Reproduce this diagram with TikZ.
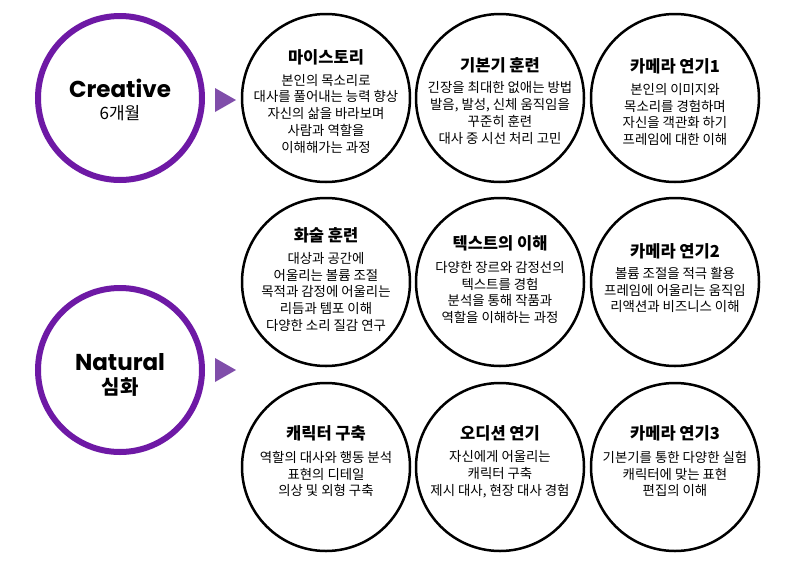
\documentclass[tikz,border=0pt]{standalone}
\usepackage{fontspec}
\newfontfamily\kr{Noto Sans CJK KR}
\newfontfamily\pop{Poppins}
\definecolor{ring}{RGB}{110,25,165}
\definecolor{tricol}{RGB}{128,78,170}
\begin{document}
\begin{tikzpicture}[x=1pt,y=-1pt,
  stage/.style={circle, draw=ring, line width=6pt, minimum size=164pt, inner sep=0pt},
  topic/.style={circle, draw=black, line width=2.5pt, minimum size=168pt, inner sep=0pt},
  ttl/.style={font=\kr\bfseries\fontsize{16.5}{19}\selectfont, inner sep=0pt},
  bdy/.style={font=\kr\fontsize{13.4}{16.8}\selectfont, align=center, inner sep=0pt},
  stagename/.style={font=\pop\bfseries\fontsize{23}{26}\selectfont, inner sep=0pt},
  marker/.style={fill=tricol, draw=none}]
\useasboundingbox[fill=white] (0,0) rectangle (798,560);

% stage circles
\node[stage] (creative) at (120,98) {};
\node[stagename] (creativeT) at (120,88) {Creative};
\node[font=\kr\fontsize{17}{20}\selectfont, inner sep=0pt] (creativeS) at (120,113) {6개월};

\node[stage] (natural) at (120,370) {};
\node[stagename] (naturalT) at (120,362) {Natural};
\node[font=\kr\bfseries\fontsize{20}{23}\selectfont, inner sep=0pt] (naturalS) at (120,387) {심화};

% markers
\coordinate (m1a) at (215,88); \coordinate (m1b) at (236,100); \coordinate (m1c) at (215,112);
\fill[marker] (m1a) -- (m1b) -- (m1c) -- cycle;
\coordinate (m2a) at (215,358); \coordinate (m2b) at (236,370); \coordinate (m2c) at (215,382);
\fill[marker] (m2a) -- (m2b) -- (m2c) -- cycle;

% row 1
\node[topic] (c1) at (326,98) {};
\node[ttl] (c1t) at (326,57) {마이스토리};
\node[bdy] (c1b) at (326,113.6) {본인의 목소리로\\대사를 풀어내는 능력 향상\\자신의 삶을 바라보며\\사람과 역할을\\이해해가는 과정};

\node[topic] (c2) at (500,98) {};
\node[ttl] (c2t) at (500,65) {기본기 훈련};
\node[bdy] (c2b) at (500,112.8) {긴장을 최대한 없애는 방법\\발음, 발성, 신체 움직임을\\꾸준히 훈련\\대사 중 시선 처리 고민};

\node[topic] (c3) at (675,98) {};
\node[ttl] (c3t) at (675,66) {카메라 연기1};
\node[bdy] (c3b) at (675,114.5) {본인의 이미지와\\목소리를 경험하며\\자신을 객관화 하기\\프레임에 대한 이해};

% row 2
\node[topic] (c4) at (326,282) {};
\node[ttl] (c4t) at (326,235) {화술 훈련};
\node[bdy] (c4b) at (326,291.8) {대상과 공간에\\어울리는 볼륨 조절\\목적과 감정에 어울리는\\리듬과 템포 이해\\다양한 소리 질감 연구};

\node[topic] (c5) at (500,282) {};
\node[ttl] (c5t) at (500,243) {텍스트의 이해};
\node[bdy] (c5b) at (500,292.5) {다양한 장르와 감정선의\\텍스트를 경험\\분석을 통해 작품과\\역할을 이해하는 과정};

\node[topic] (c6) at (675,282) {};
\node[ttl] (c6t) at (675,251) {카메라 연기2};
\node[bdy] (c6b) at (675,290) {볼륨 조절을 적극 활용\\프레임에 어울리는 움직임\\리액션과 비즈니스 이해};

% row 3
\node[topic] (c7) at (326,467) {};
\node[ttl] (c7t) at (326,433) {캐릭터 구축};
\node[bdy] (c7b) at (326,474) {역할의 대사와 행동 분석\\표현의 디테일\\의상 및 외형 구축};

\node[topic] (c8) at (500,467) {};
\node[ttl] (c8t) at (500,433) {오디션 연기};
\node[bdy] (c8b) at (500,474) {자신에게 어울리는\\캐릭터 구축\\제시 대사, 현장 대사 경험};

\node[topic] (c9) at (675,467) {};
\node[ttl] (c9t) at (675,433) {카메라 연기3};
\node[bdy] (c9b) at (675,474) {기본기를 통한 다양한 실험\\캐릭터에 맞는 표현\\편집의 이해};
\end{tikzpicture}
\end{document}
